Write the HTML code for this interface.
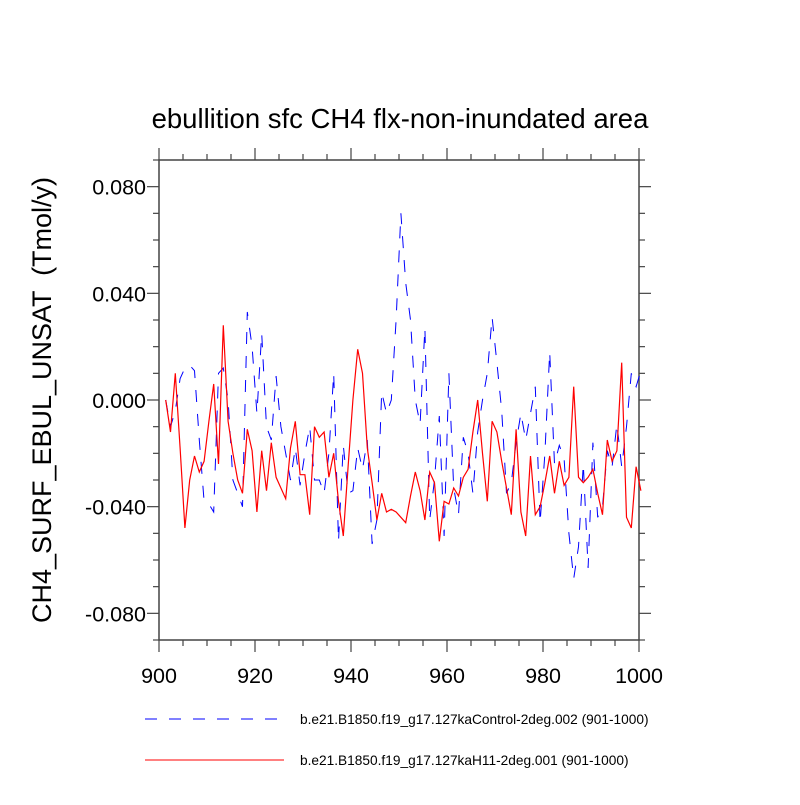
<!DOCTYPE html>
<html><head><meta charset="utf-8"><style>
body{margin:0;background:#fff;}
svg text{font-family:"Liberation Sans",sans-serif;fill:#000;}
</style></head><body>
<svg id="chart" width="800" height="800" viewBox="0 0 800 800" xmlns="http://www.w3.org/2000/svg">
<text x="400" y="128" font-size="27.5" text-anchor="middle">ebullition sfc CH4 flx-non-inundated area</text>
<text transform="translate(51,400) rotate(-90)" font-size="27" text-anchor="middle" xml:space="preserve">CH4_SURF_EBUL_UNSAT  (Tmol/y)</text>
<g id="axes"></g>
<g id="series"></g>
<g>
<line x1="145" y1="719" x2="278" y2="719" stroke="#0000ff" stroke-width="1" stroke-dasharray="12,12"/>
<text x="300" y="724" font-size="13.7">b.e21.B1850.f19_g17.127kaControl-2deg.002 (901-1000)</text>
<line x1="145" y1="760" x2="284" y2="760" stroke="#ff0000" stroke-width="1"/>
<text x="300" y="765" font-size="13.7">b.e21.B1850.f19_g17.127kaH11-2deg.001 (901-1000)</text>
</g>
</svg>
<script>
const xTickLabels = [900, 920, 940, 960, 980, 1000];
const yTickLabels = ["-0.080", "-0.040", "0.000", "0.040", "0.080"];
const yTickValues = [-0.08, -0.04, 0, 0.04, 0.08];
const years = [];
for (let y = 901; y <= 1000; y++) years.push(y);
const controlValues = [0.000,-0.010,-0.004,0.008,0.012,0.013,0.011,-0.015,-0.038,-0.039,
-0.042,0.010,0.012,0.000,-0.030,-0.035,-0.040,0.033,0.020,-0.005,
0.025,-0.010,-0.015,0.009,-0.010,-0.020,-0.030,-0.018,-0.032,-0.020,
-0.010,-0.030,-0.030,-0.035,-0.020,0.010,-0.053,-0.017,-0.035,-0.034,
-0.018,-0.026,-0.015,-0.054,-0.045,0.003,-0.005,0.000,0.030,0.070,
0.044,0.030,0.000,-0.009,0.027,-0.045,-0.030,-0.006,-0.051,0.010,
-0.033,-0.043,-0.014,-0.020,-0.035,-0.012,0.000,0.010,0.031,0.014,
-0.004,-0.035,-0.031,-0.016,-0.005,-0.015,-0.005,0.005,-0.046,-0.020,
0.018,-0.024,-0.017,-0.022,-0.050,-0.067,-0.055,-0.024,-0.063,-0.016,
-0.044,-0.040,-0.019,-0.025,-0.009,-0.025,-0.010,0.010,0.005,0.011];
const h11Values = [0.000,-0.012,0.010,-0.018,-0.048,-0.030,-0.021,-0.027,-0.023,-0.008,
0.006,-0.024,0.028,-0.008,-0.020,-0.030,-0.035,-0.011,-0.019,-0.042,
-0.019,-0.034,-0.016,-0.029,-0.033,-0.037,-0.018,-0.008,-0.028,-0.028,
-0.043,-0.010,-0.014,-0.012,-0.029,-0.020,-0.038,-0.051,-0.025,0.000,
0.019,0.010,-0.018,-0.031,-0.045,-0.035,-0.042,-0.041,-0.042,-0.044,
-0.046,-0.036,-0.027,-0.034,-0.045,-0.027,-0.031,-0.053,-0.038,-0.039,
-0.033,-0.036,-0.029,-0.026,-0.012,0.000,-0.020,-0.038,-0.008,-0.012,
-0.023,-0.033,-0.043,-0.011,-0.042,-0.051,-0.021,-0.043,-0.040,-0.031,
-0.021,-0.035,-0.023,-0.032,-0.029,0.005,-0.029,-0.031,-0.029,-0.026,
-0.035,-0.043,-0.015,-0.023,-0.019,0.014,-0.044,-0.048,-0.025,-0.034];

const L=159, R=639, T=160, B=640, xMin=900, xMax=1000, yMin=-0.09, yMax=0.09;
const sx = v => L + (v - xMin) / (xMax - xMin) * (R - L);
const sy = v => B - (v - yMin) / (yMax - yMin) * (B - T);
const NS = "http://www.w3.org/2000/svg";
function mk(tag, attrs, parent){const e=document.createElementNS(NS,tag);for(const k in attrs)e.setAttribute(k,attrs[k]);parent.appendChild(e);return e;}
const axes = document.getElementById('axes');
const frame = mk('rect',{x:L,y:T,width:R-L,height:B-T,fill:'none',stroke:'#444','stroke-width':1.5},axes);


for (let v = 900; v <= 1000; v += 5) {
  const major = v % 20 === 0, len = major ? 12 : 6, x = sx(v);
  const t1 = mk('line',{x1:x,y1:B,x2:x,y2:B+len,stroke:'#444','stroke-width':1.2},axes);
  
  
  const t2 = mk('line',{x1:x,y1:T,x2:x,y2:T-len,stroke:'#444','stroke-width':1.2},axes);
  
  
}
xTickLabels.forEach(v => {
  const t = mk('text',{x:sx(v),y:B+43,'font-size':21.5,'text-anchor':'middle'},axes);
  t.textContent = v;
  
  
});
for (let i = -9; i <= 9; i++) {
  const v = i / 100, major = i % 4 === 0, len = major ? 12 : 6, y = sy(v);
  const t1 = mk('line',{x1:L,y1:y,x2:L-len,y2:y,stroke:'#444','stroke-width':1.2},axes);
  
  
  const t2 = mk('line',{x1:R,y1:y,x2:R+len,y2:y,stroke:'#444','stroke-width':1.2},axes);
  
  
}
yTickValues.forEach((v, i) => {
  const t = mk('text',{x:L-13,y:sy(v)+8,'font-size':21.5,'text-anchor':'end'},axes);
  t.textContent = yTickLabels[i];
  
  
});
const series = document.getElementById('series');
const pts = vals => vals.map((v,i)=>sx(years[i]+0.4).toFixed(1)+','+sy(v).toFixed(1)).join(' ');
const blue = mk('polyline',{points:pts(controlValues),fill:'none',stroke:'#0000ff','stroke-width':1,'stroke-dasharray':'12,12'},series);


const red = mk('polyline',{points:pts(h11Values),fill:'none',stroke:'#ff0000','stroke-width':1.2},series);


</script>
</body></html>
